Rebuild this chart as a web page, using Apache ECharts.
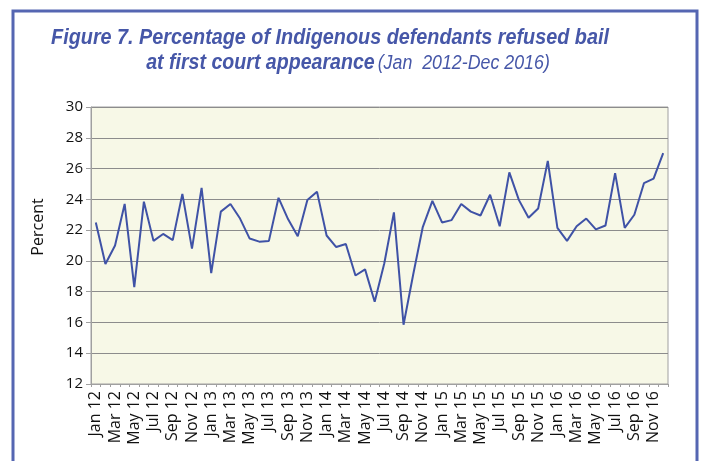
<!DOCTYPE html>
<html>
<head>
<meta charset="utf-8">
<script src="https://cdn.jsdelivr.net/npm/echarts@6/dist/echarts.min.js"></script>
<style>
  html, body { margin: 0; padding: 0; background: #fff; }
  #chart1 { width: 704px; height: 461px; }
</style>
</head>
<body>
<div id="chart1"></div>
<script>
// data
var months = ['Jan', 'Feb', 'Mar', 'Apr', 'May', 'Jun', 'Jul', 'Aug', 'Sep', 'Oct', 'Nov', 'Dec'];
var years = ['12', '13', '14', '15', '16'];
var values2012 = [22.5, 19.8, 21.0, 23.7, 18.3, 23.85, 21.3, 21.75, 21.35, 24.35, 20.8, 24.75];
var values2013 = [19.2, 23.2, 23.7, 22.75, 21.45, 21.25, 21.3, 24.1, 22.7, 21.6, 23.95, 24.5];
var values2014 = [21.65, 20.9, 21.1, 19.05, 19.45, 17.35, 19.85, 23.15, 15.85, 19.1, 22.2, 23.9];
var values2015 = [22.5, 22.65, 23.7, 23.2, 22.95, 24.3, 22.25, 25.75, 23.95, 22.8, 23.4, 26.5];
var values2016 = [22.15, 21.3, 22.25, 22.75, 22.05, 22.3, 25.7, 22.15, 23.0, 25.05, 25.35, 27.0];
var yTicks = [12, 14, 16, 18, 20, 22, 24, 26, 28, 30];

var categories = [];
years.forEach(function (y) {
    months.forEach(function (m) { categories.push(m + ' ' + y); });
});
var values = [].concat(values2012, values2013, values2014, values2015, values2016);

var mychart1 = echarts.init(document.getElementById('chart1'));
var blue = '#4657a8';
var option = {
    backgroundColor: '#fff',
    animation: false,
    grid: {
        left: 91, right: 36, top: 107, bottom: 77,
        show: true,
        backgroundColor: '#f7f8e7',
        borderColor: '#a0a0a0',
        borderWidth: 1
    },
    graphic: [
        {
            type: 'rect',
            shape: { x: 13, y: 11, width: 684, height: 470 },
            style: { fill: 'none', stroke: '#5566b2', lineWidth: 3 }
        },
        {
            type: 'text',
            x: 330, y: 38,
            scaleX: 0.9,
            style: {
                text: 'Figure 7. Percentage of Indigenous defendants refused bail',
                font: 'italic bold 22px "Liberation Sans", sans-serif',
                fill: blue, align: 'center', verticalAlign: 'middle'
            }
        },
        {
            type: 'text',
            x: 348, y: 63,
            scaleX: 0.89,
            style: {
                text: '{b|at first court appearance} {n|(Jan  2012-Dec 2016)}',
                align: 'center', verticalAlign: 'middle',
                rich: {
                    b: { font: 'italic bold 22px "Liberation Sans", sans-serif', fill: blue },
                    n: { font: 'italic 20px "Liberation Sans", sans-serif', fill: blue }
                }
            }
        },
        {
            type: 'text',
            x: 38, y: 227,
            rotation: Math.PI / 2,
            style: {
                text: 'Percent',
                font: '16px "Open Sans", sans-serif',
                fill: '#111', align: 'center', verticalAlign: 'middle'
            }
        }
    ],
    xAxis: {
        type: 'category',
        data: categories,
        boundaryGap: true,
        axisLine: { lineStyle: { color: '#a0a0a0' } },
        axisTick: { show: true, interval: 0, length: 3, lineStyle: { color: '#a0a0a0' } },
        axisLabel: {
            interval: 1,
            rotate: 90,
            margin: 7,
            color: '#111',
            fontSize: 16,
            fontFamily: 'Open Sans'
        }
    },
    yAxis: {
        type: 'value',
        min: yTicks[0],
        max: yTicks[yTicks.length - 1],
        interval: 2,
        axisLine: { show: true, lineStyle: { color: '#a0a0a0' } },
        axisTick: { show: true, length: 5, lineStyle: { color: '#a0a0a0' } },
        axisLabel: { color: '#111', fontSize: 15, fontFamily: 'Open Sans', margin: 8 },
        splitLine: { lineStyle: { color: '#8c8c8c', width: 1 } }
    },
    series: [{
        type: 'line',
        data: values,
        showSymbol: false,
        lineStyle: { color: '#3f52a6', width: 2 }
    }]
};
mychart1.setOption(option);
</script>
</body>
</html>
